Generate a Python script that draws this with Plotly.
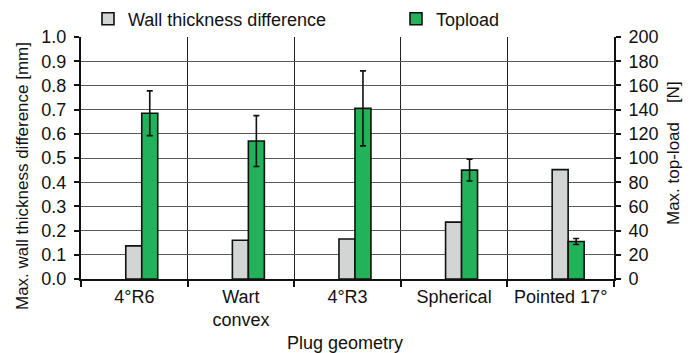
import plotly.graph_objects as go

categories = ["4°R6", "Wart<br>convex", "4°R3", "Spherical", "Pointed 17°"]
wall_thickness = [0.137, 0.160, 0.165, 0.235, 0.452]
topload = [137, 114, 141, 90, 31]
topload_err = [18.5, 21, 31, 9, 2.5]
left_ticks = [0.0, 0.1, 0.2, 0.3, 0.4, 0.5, 0.6, 0.7, 0.8, 0.9, 1.0]
right_ticks = [0, 20, 40, 60, 80, 100, 120, 140, 160, 180, 200]

FONT = "Liberation Sans, Arial, sans-serif"
FS = 18
FS_T = 17
INK = "#111111"

W, H = 692, 353
ML, MR, MT, MB = 81, 78, 37, 74
PW, PH = W - ML - MR, H - MT - MB

fig = go.Figure()
fig.add_trace(go.Bar(
    x=categories, y=wall_thickness, name="Wall thickness difference",
    marker=dict(color="#d3d4d4", line=dict(color=INK, width=1.6)),
    offset=-0.08, width=0.15, legend="legend",
))
fig.add_trace(go.Bar(
    x=categories, y=topload, name="Topload", yaxis="y2",
    marker=dict(color="#22b25a", line=dict(color=INK, width=1.6)),
    offset=0.07, width=0.15, legend="legend2",
    error_y=dict(type="data", array=topload_err, visible=True,
                 color=INK, thickness=1.6, width=3),
))

fig.update_layout(
    width=W, height=H,
    margin=dict(l=ML, r=MR, t=MT, b=MB, autoexpand=False),
    paper_bgcolor="white", plot_bgcolor="white",
    font=dict(family=FONT, size=FS, color=INK),
    barmode="overlay",
    showlegend=True,
    legend=dict(xref="container", yref="container",
                x=88 / W, y=1 - 19 / H, xanchor="left", yanchor="middle",
                orientation="h", bgcolor="rgba(0,0,0,0)",
                font=dict(family=FONT, size=FS, color=INK)),
    legend2=dict(xref="container", yref="container",
                 x=396 / W, y=1 - 19 / H, xanchor="left", yanchor="middle",
                 orientation="h", bgcolor="rgba(0,0,0,0)",
                 font=dict(family=FONT, size=FS, color=INK)),
    xaxis=dict(
        type="category", range=[-0.5, 4.5], automargin=False,
        tickson="boundaries", ticks="outside", ticklen=6, tickwidth=2,
        tickcolor=INK,
        showgrid=True, gridcolor="#222222", gridwidth=1,
        showline=True, linecolor=INK, linewidth=2,
        tickfont=dict(family=FONT, size=FS, color=INK),
    ),
    yaxis=dict(
        range=[0, 1.0], tickvals=left_ticks, automargin=False,
        ticktext=[f"{v:.1f}" for v in left_ticks],
        ticks="outside", ticklen=5, tickwidth=2, tickcolor=INK,
        showgrid=True, gridcolor="#5a5a5a", gridwidth=1,
        showline=True, linecolor=INK, linewidth=2,
        zeroline=False, ticklabelstandoff=4,
        tickfont=dict(family=FONT, size=FS, color=INK),
    ),
    yaxis2=dict(
        range=[0, 200], tickvals=right_ticks, overlaying="y", side="right",
        automargin=False,
        ticks="outside", ticklen=5, tickwidth=2, tickcolor=INK,
        showgrid=False, showline=True, linecolor=INK, linewidth=2,
        zeroline=False, ticklabelstandoff=4,
        tickfont=dict(family=FONT, size=FS, color=INK),
    ),
    annotations=[
        dict(text="Max. wall thickness difference [mm]", textangle=-90,
             xref="paper", yref="paper", x=(22 - ML) / PW, y=(H - MB - 176) / PH,
             xanchor="center", yanchor="middle", showarrow=False,
             font=dict(family=FONT, size=FS_T, color=INK)),
        dict(text="Max. top-load\u00a0\u00a0\u00a0\u00a0[N]", textangle=-90,
             xref="paper", yref="paper", x=(673 - ML) / PW, y=(H - MB - 153) / PH,
             xanchor="center", yanchor="middle", showarrow=False,
             font=dict(family=FONT, size=FS_T, color=INK)),
        dict(text="Plug geometry",
             xref="paper", yref="paper", x=(345 - ML) / PW, y=(H - MB - 343) / PH,
             xanchor="center", yanchor="middle", showarrow=False,
             font=dict(family=FONT, size=FS, color=INK)),
    ],
)

fig.write_html("out.html", config={"displayModeBar": False},
               post_script="document.body.style.margin='0';document.body.style.overflow='hidden';")
